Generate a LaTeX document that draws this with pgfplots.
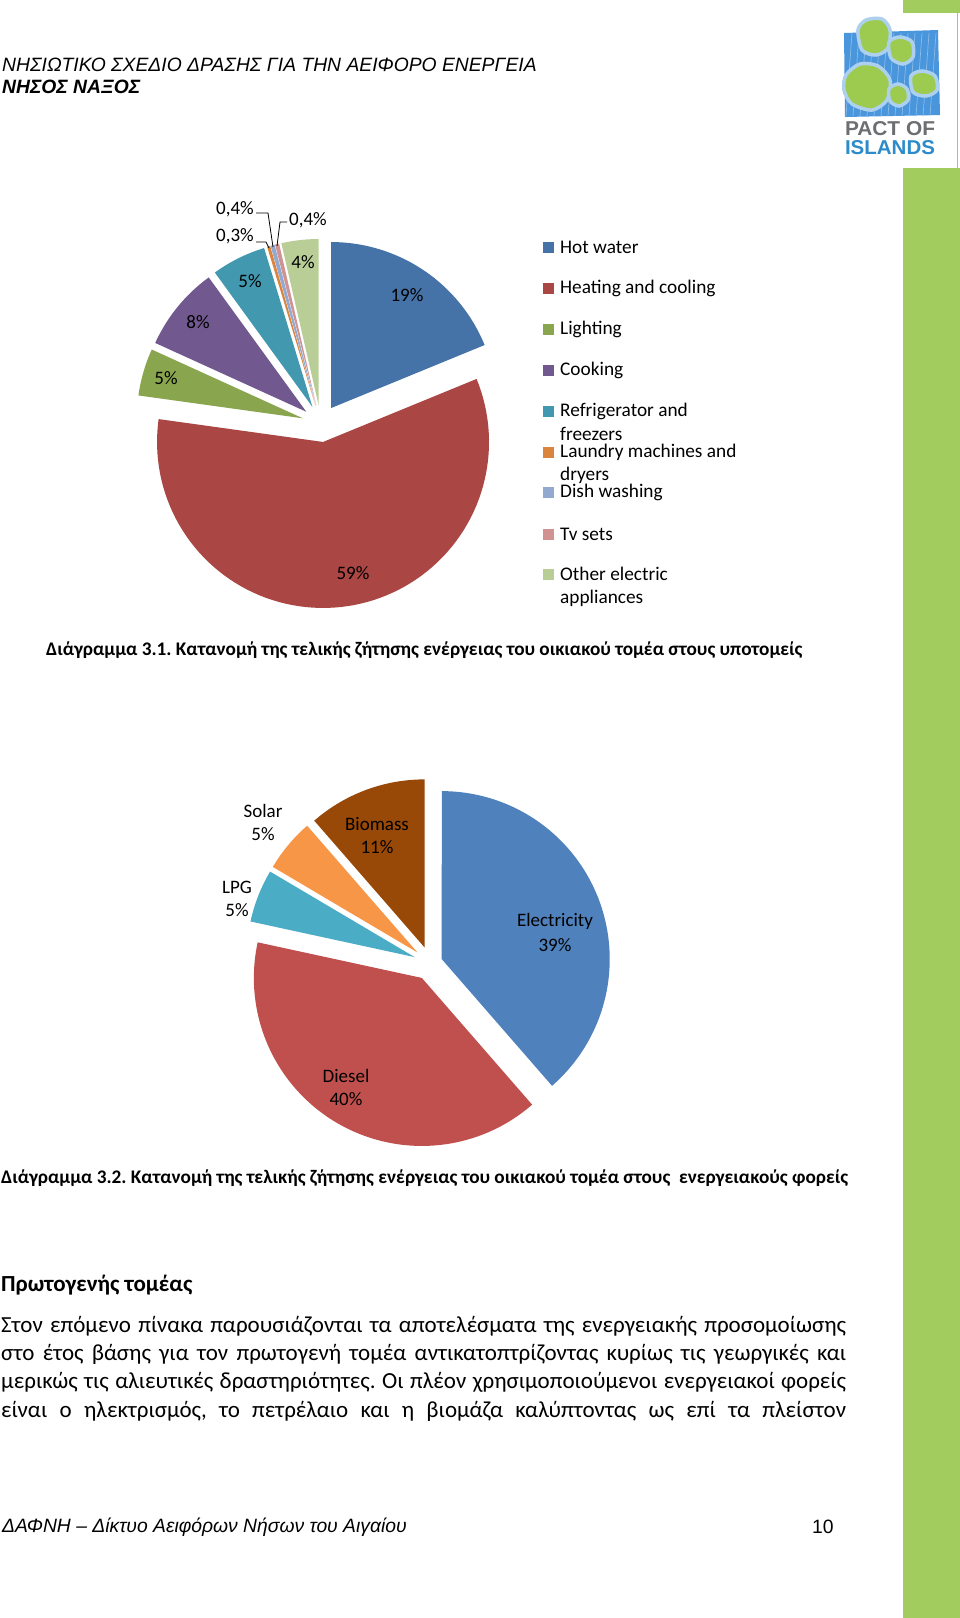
\documentclass[border=0pt]{standalone}
\usepackage{fontspec}
\setmainfont{Carlito}
\newfontfamily\arialfont{Liberation Sans}
\usepackage{graphicx}
\usepackage{pgfplots}
\pgfplotsset{compat=1.18}
\frenchspacing

% pie 1 colours
\definecolor{hw}{HTML}{4572A7}
\definecolor{hc}{HTML}{AA4643}
\definecolor{li}{HTML}{89A54E}
\definecolor{co}{HTML}{71588F}
\definecolor{rf}{HTML}{4198AF}
\definecolor{la}{HTML}{DB843D}
\definecolor{dw}{HTML}{93A9CF}
\definecolor{tv}{HTML}{D19392}
\definecolor{ot}{HTML}{B9CD96}
% pie 2 colours
\definecolor{el}{HTML}{4F81BD}
\definecolor{di}{HTML}{C0504D}
\definecolor{lp}{HTML}{4BACC6}
\definecolor{so}{HTML}{F79646}
\definecolor{bi}{HTML}{984807}
% page
\definecolor{pagegreen}{HTML}{A3CC5F}
\definecolor{logoblue}{HTML}{4A96DC}
\definecolor{logogreen}{HTML}{9DCB4F}
\definecolor{logogray}{HTML}{6D6E71}
\definecolor{logotext}{HTML}{2E8BC9}

% one slice: cx, cy, radius, explode, start angle, value in percent, colour
\newcommand{\pieslice}[7]{%
  \pgfmathsetmacro\psend{#5-3.6*#6}%
  \pgfmathsetmacro\psmid{(#5+\psend)/2}%
  \pgfmathsetmacro\psox{#1+#4*cos(\psmid)}%
  \pgfmathsetmacro\psoy{#2-#4*sin(\psmid)}%
  \edef\pstemp{\noexpand\addplot[fill=#7,draw=none,domain=\psend:#5,samples=90]
     ({\psox+#3*cos(x)},{\psoy-#3*sin(x)}) -- (axis cs:\psox,\psoy) -- cycle;}%
  \pstemp
  \xdef\pslast{\psend}%
}

\tikzset{
  lab/.style={font=\fontsize{19}{23}\selectfont, inner sep=0pt},
  leg/.style={font=\fontsize{19.3}{23}\selectfont, inner sep=0pt, anchor=west},
  body/.style={font=\fontsize{23}{28}\selectfont, inner sep=0pt, anchor=west},
  blob/.style={fill=logogreen, draw=white!55!logoblue, line width=3.5pt},
}

\begin{document}
\begin{tikzpicture}
\begin{axis}[
  width=960pt, height=1618pt, scale only axis,
  xmin=0, xmax=960, ymin=0, ymax=1618, y dir=reverse,
  hide axis, clip=false]

% page background
\addplot[draw=none, fill=white] coordinates {(0,0) (960,0) (960,1618) (0,1618)} -- cycle;
% green page bar
\addplot[draw=none, fill=pagegreen] coordinates {(903,168) (960,168) (960,1618) (903,1618)} -- cycle;
\addplot[draw=none, fill=pagegreen] coordinates {(903,0) (960,0) (960,13) (903,13)} -- cycle;
\draw[gray!60, line width=0.8pt] (957.5,13) -- (957.5,168);

% ---------- logo ----------
\fill[logoblue] (844,33) -- (938,30) -- (940,115) -- (845,117) -- cycle;
\pgfplotsinvokeforeach{0,7,14,21,28,35,42,49,56,63,70,77,84}{
  \draw[white!35!logoblue, line width=0.7pt] (846+#1,116) -- (852+#1,33);
}
\draw[blob] plot[smooth cycle] coordinates {(858,30) (866,20) (882,19) (890,30) (888,48) (876,55) (862,50)};
\draw[blob] plot[smooth cycle] coordinates {(889,42) (900,37) (912,42) (913,57) (903,64) (891,58)};
\draw[blob] plot[smooth cycle] coordinates {(846,75) (860,64) (878,66) (890,80) (887,100) (872,110) (852,104) (844,90)};
\draw[blob] plot[smooth cycle] coordinates {(911,76) (922,71) (935,76) (937,90) (926,96) (913,92)};
\draw[blob] plot[smooth cycle] coordinates {(889,89) (898,84) (907,89) (908,100) (899,106) (890,101)};
\node[inner sep=0pt, anchor=center, text=logogray] at (890,129) {\resizebox{90pt}{14pt}{\arialfont\bfseries PACT OF}};
\node[inner sep=0pt, anchor=center, text=logotext] at (890,147.5) {\resizebox{90pt}{14pt}{\arialfont\bfseries ISLANDS}};

% ---------- header ----------
\node[inner sep=0pt, anchor=west, font=\arialfont\itshape\fontsize{19.3}{22}\selectfont] at (2,65) {ΝΗΣΙΩΤΙΚΟ ΣΧΕΔΙΟ ΔΡΑΣΗΣ ΓΙΑ ΤΗΝ ΑΕΙΦΟΡΟ ΕΝΕΡΓΕΙΑ};
\node[inner sep=0pt, anchor=west, font=\arialfont\itshape\bfseries\fontsize{19.3}{22}\selectfont] at (2,87) {ΝΗΣΟΣ ΝΑΞΟΣ};

% ---------- pie 1: end uses ----------
\def\cA{320.7}\def\cB{423.5}\def\rR{166}\def\dD{18.6}
\pieslice{\cA}{\cB}{\rR}{\dD}{90}{18.8}{hw}
\pieslice{\cA}{\cB}{\rR}{\dD}{\pslast}{58.4}{hc}
\pieslice{\cA}{\cB}{\rR}{\dD}{\pslast}{4.6}{li}
\pieslice{\cA}{\cB}{\rR}{\dD}{\pslast}{8.2}{co}
\pieslice{\cA}{\cB}{\rR}{\dD}{\pslast}{5.3}{rf}
\pieslice{\cA}{\cB}{\rR}{\dD}{\pslast}{0.3}{la}
\pieslice{\cA}{\cB}{\rR}{\dD}{\pslast}{0.4}{dw}
\pieslice{\cA}{\cB}{\rR}{\dD}{\pslast}{0.4}{tv}
\pieslice{\cA}{\cB}{\rR}{\dD}{\pslast}{3.6}{ot}

\node[lab] at (407,295) {19\%};
\node[lab] at (353,573) {59\%};
\node[lab] at (166,378) {5\%};
\node[lab] at (198,322) {8\%};
\node[lab] at (250,281) {5\%};
\node[lab] at (303,262) {4\%};
\node[lab] at (235,209) {0,4\%};
\node[lab] at (235,236) {0,3\%};
\node[lab] at (308,220) {0,4\%};
\draw[black, line width=0.8pt] (256,213) -- (268,213) -- (273,247);
\draw[black, line width=0.8pt] (256,242) -- (266,242) -- (269,248);
\draw[black, line width=0.8pt] (287,222) -- (280,222) -- (277,246);

% legend
\fill[hw] (543,241.5) rectangle (554,252.5); \node[leg] at (560,247) {Hot water};
\fill[hc] (543,282.5) rectangle (554,293.5); \node[leg] at (560,288) {Heating and cooling};
\fill[li] (543,323.5) rectangle (554,334.5); \node[leg] at (560,329) {Lighting};
\fill[co] (543,364.5) rectangle (554,375.5); \node[leg] at (560,370) {Cooking};
\fill[rf] (543,405.5) rectangle (554,416.5); \node[leg] at (560,411) {Refrigerator and};
\node[leg] at (560,434) {freezers};
\fill[la] (543,446.5) rectangle (554,457.5); \node[leg] at (560,452) {Laundry machines and};
\node[leg] at (560,475) {dryers};
\fill[dw] (543,486.5) rectangle (554,497.5); \node[leg] at (560,492) {Dish washing};
\fill[tv] (543,528.5) rectangle (554,539.5); \node[leg] at (560,534) {Tv sets};
\fill[ot] (543,568.5) rectangle (554,579.5); \node[leg] at (560,574) {Other electric};
\node[leg] at (560,598) {appliances};

% caption 1
\node[inner sep=0pt, anchor=west, font=\bfseries\fontsize{19.25}{23}\selectfont] at (46,650) {Διάγραμμα 3.1. Κατανομή της τελικής ζήτησης ενέργειας του οικιακού τομέα στους υποτομείς};

% ---------- pie 2: energy carriers ----------
\def\eA{430.5}\def\eB{963.3}\def\eR{168}
\pieslice{\eA}{\eB}{\eR}{12}{90}{38.6}{el}
\pieslice{\eA}{\eB}{\eR}{17}{\pslast}{39.8}{di}
\pieslice{\eA}{\eB}{\eR}{17}{\pslast}{5.1}{lp}
\pieslice{\eA}{\eB}{\eR}{17}{\pslast}{5.1}{so}
\pieslice{\eA}{\eB}{\eR}{17}{\pslast}{11.4}{bi}

\node[lab] at (377,824) {Biomass}; \node[lab] at (377,847) {11\%};
\node[lab] at (263,811) {Solar};   \node[lab] at (263,834) {5\%};
\node[lab] at (237,887) {LPG};     \node[lab] at (237,910) {5\%};
\node[lab] at (555,921) {Electricity}; \node[lab] at (555,945) {39\%};
\node[lab] at (346,1076) {Diesel}; \node[lab] at (346,1099) {40\%};

% caption 2
\node[inner sep=0pt, anchor=west, font=\bfseries\fontsize{19.25}{23}\selectfont] at (1,1178) {Διάγραμμα 3.2. Κατανομή της τελικής ζήτησης ενέργειας του οικιακού τομέα στους~~ενεργειακούς φορείς};

% ---------- body text ----------
\node[inner sep=0pt, anchor=west, font=\bfseries\fontsize{23}{28}\selectfont] at (1,1285) {Πρωτογενής τομέας};
\node[body] at (1,1326) {\makebox[845pt][s]{Στον επόμενο πίνακα παρουσιάζονται τα αποτελέσματα της ενεργειακής προσομοίωσης}};
\node[body] at (1,1354) {\makebox[845pt][s]{στο έτος βάσης για τον πρωτογενή τομέα αντικατοπτρίζοντας κυρίως τις γεωργικές και}};
\node[body] at (1,1382) {\makebox[845pt][s]{μερικώς τις αλιευτικές δραστηριότητες. Οι πλέον χρησιμοποιούμενοι ενεργειακοί φορείς}};
\node[body] at (1,1411) {\makebox[845pt][s]{είναι ο ηλεκτρισμός, το πετρέλαιο και η βιομάζα καλύπτοντας ως επί τα πλείστον}};

% ---------- footer ----------
\node[inner sep=0pt, anchor=west, font=\arialfont\itshape\fontsize{19.3}{22}\selectfont] at (2,1527) {ΔΑΦΝΗ – Δίκτυο Αειφόρων Νήσων του Αιγαίου};
\node[inner sep=0pt, anchor=west, font=\arialfont\fontsize{19.3}{22}\selectfont] at (812,1527) {10};

\end{axis}
\end{tikzpicture}
\end{document}
